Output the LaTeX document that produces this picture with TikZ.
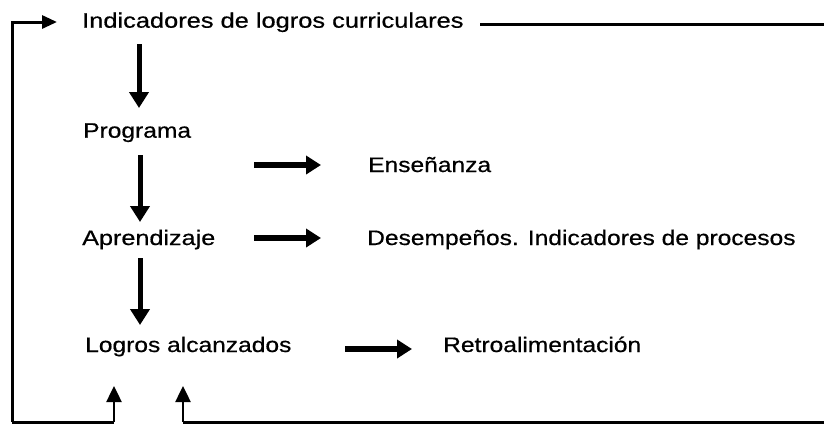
\documentclass[tikz,border=0pt]{standalone}
\usepackage{fontspec}
\usepackage{graphicx}
\setmainfont{Liberation Sans}
\newfontfamily\lblfont[FakeBold=0.5]{Liberation Sans}
\usetikzlibrary{arrows.meta}
\newcommand{\wtext}[2][1.17]{\scalebox{#1}[1]{#2}}
\begin{document}
\begin{tikzpicture}[x=1pt,y=-1pt,
  lbl/.style={anchor=base west,inner sep=0pt,font=\lblfont\fontsize{21}{25}\selectfont},
  bigarrow/.style={line width=5pt,-{Triangle[length=16pt,width=19pt]}},
  sidearrow/.style={line width=5.5pt,-{Triangle[length=15pt,width=18pt]}},
  thinline/.style={line width=3pt,line join=miter},
  thinarrow/.style={line width=3pt,line join=miter,-{Triangle[length=15pt,width=13pt]}},
  feedarrow/.style={line width=2.5pt,line join=miter,-{Triangle[length=16pt,width=15pt]}}]
\useasboundingbox (0,0) rectangle (824,424);
% text nodes
\node[lbl] (ind) at (82,27.7) {\wtext[1.21]{Indicadores de logros curriculares}};
\node[lbl] (prog) at (83,137.7) {\wtext{Programa}};
\node[lbl] (apr) at (82,245) {\wtext[1.2]{Aprendizaje}};
\node[lbl] (ens) at (368,172) {\wtext{Enseñanza}};
\node[lbl] (des) at (367,245) {\wtext{Desempeños. Indicadores de procesos}};
\node[lbl] (log) at (85,352) {\wtext{Logros alcanzados}};
\node[lbl] (ret) at (443,352) {\wtext{Retroalimentación}};
% connector end points
\coordinate (v1s) at (139,44);  \coordinate (v1e) at (139,108);
\coordinate (v2s) at (140,155); \coordinate (v2e) at (140,222);
\coordinate (v3s) at (140,258); \coordinate (v3e) at (140,325);
\coordinate (h1s) at (254,165); \coordinate (h1e) at (321,165);
\coordinate (h2s) at (254,238); \coordinate (h2e) at (321,238);
\coordinate (h3s) at (345,349); \coordinate (h3e) at (412,349);
\coordinate (tl) at (12,22);  \coordinate (tltip) at (57,22);
\coordinate (bl) at (12,422);
\coordinate (b1) at (114,422); \coordinate (b1tip) at (114,386);
\coordinate (b2) at (183,422); \coordinate (b2tip) at (183,386);
\coordinate (br) at (824,422);
\coordinate (trs) at (480,24.5); \coordinate (tre) at (824,24.5);
% vertical flow
\draw[bigarrow] (v1s) -- (v1e);
\draw[bigarrow] (v2s) -- (v2e);
\draw[bigarrow] (v3s) -- (v3e);
% side arrows
\draw[sidearrow] (h1s) -- (h1e);
\draw[sidearrow] (h2s) -- (h2e);
\draw[sidearrow] (h3s) -- (h3e);
% feedback loop
\draw[thinarrow] (bl) -- (tl) -- (tltip);
\draw[thinline] (bl) -- (b1);
\draw[feedarrow] (b1) -- (b1tip);
\draw[thinline] (br) -- (b2);
\draw[feedarrow] (b2) -- (b2tip);
\draw[thinline] (trs) -- (tre);
\end{tikzpicture}
\end{document}
